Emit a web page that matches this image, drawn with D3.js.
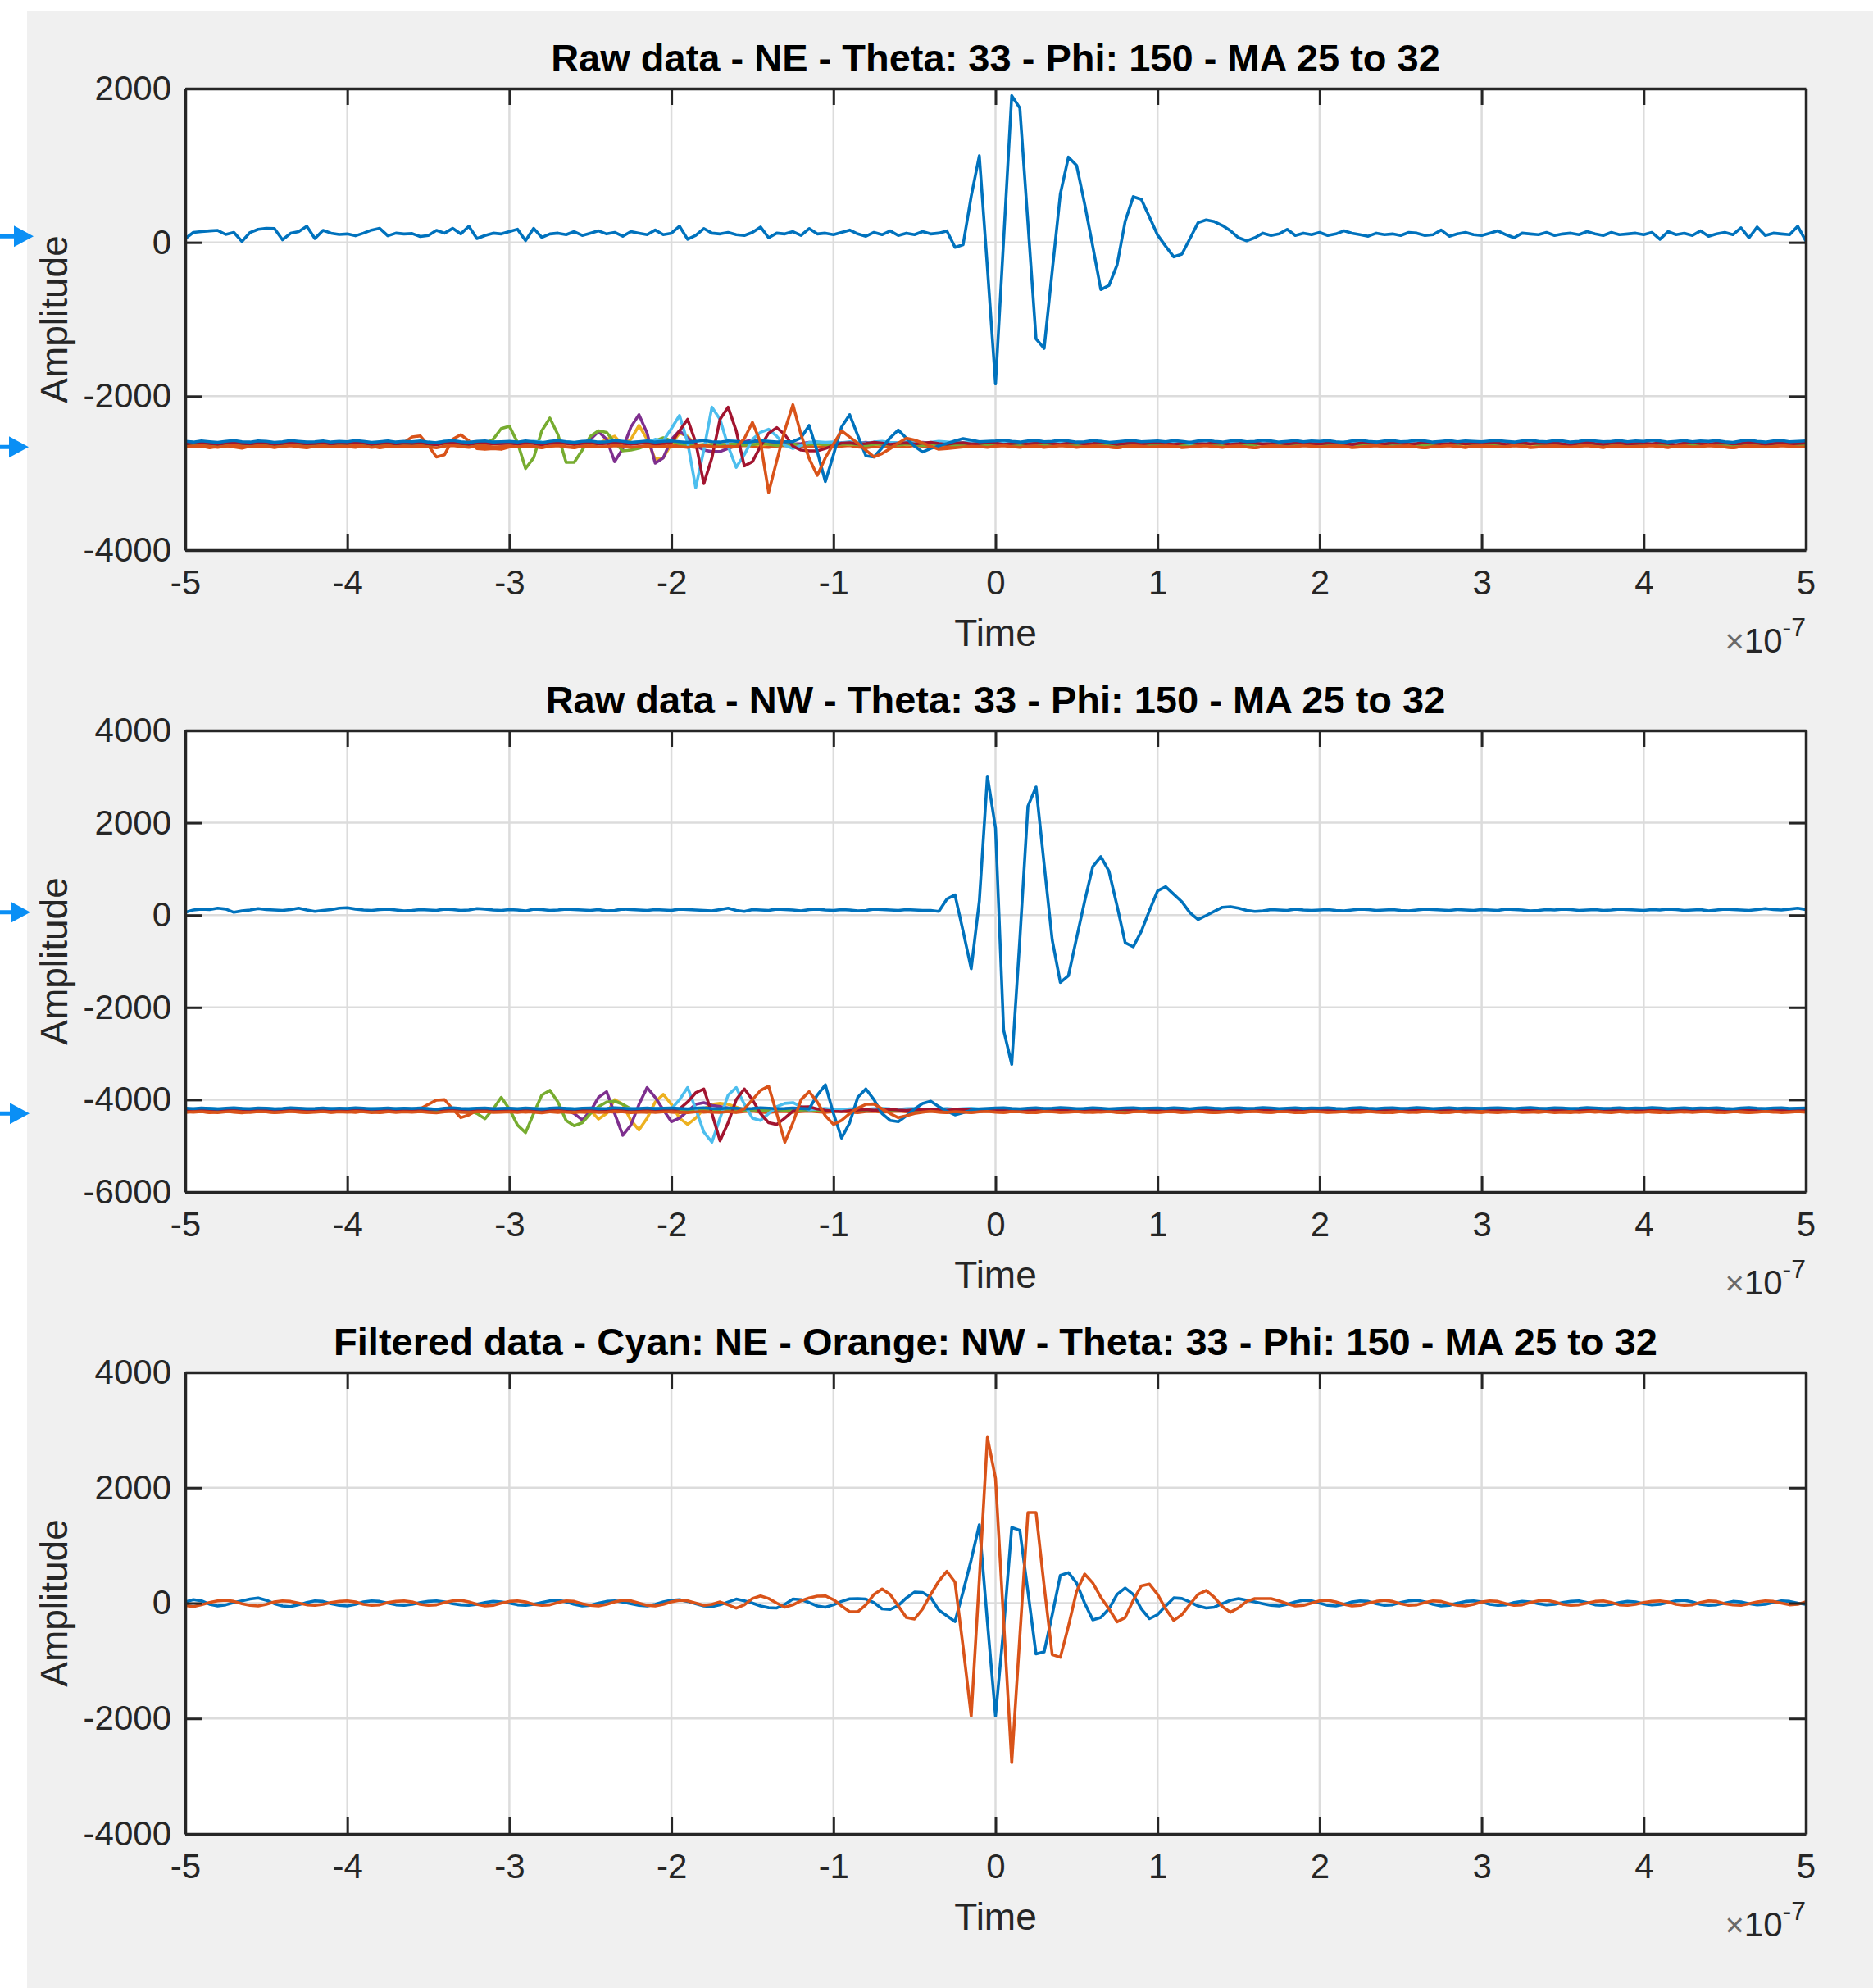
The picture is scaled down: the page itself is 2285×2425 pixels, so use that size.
<!DOCTYPE html>
<html><head><meta charset="utf-8">
<script src="https://cdn.jsdelivr.net/npm/d3@7"></script>
<style>
html,body{margin:0;padding:0;background:#ffffff;}
svg{display:block;font-family:"Liberation Sans",Arial,Helvetica,sans-serif;}
</style>
</head><body>
<svg id="chart" width="2285" height="2425"></svg>
<script>
// ---------- sampling grid (ns) ----------
const timeStartNs = -500, timeStepNs = 5;   // 201 samples, -500 .. 500 ns

// ---------- axis ticks / labels ----------
const xTicks = [-5,-4,-3,-2,-1,0,1,2,3,4,5];
const xTickLabels = ["-5","-4","-3","-2","-1","0","1","2","3","4","5"];
const xExponent = "-7";
const xLabel = "Time";
const yLabel = "Amplitude";
const panelTitles = [
  "Raw data - NE - Theta: 33 - Phi: 150 - MA 25 to 32",
  "Raw data - NW - Theta: 33 - Phi: 150 - MA 25 to 32",
  "Filtered data - Cyan: NE - Orange: NW - Theta: 33 - Phi: 150 - MA 25 to 32"
];
const yDomainP1 = [-4000, 2000], yTicksP1 = [-4000,-2000,0,2000];
const yDomainP2 = [-6000, 4000], yTicksP2 = [-6000,-4000,-2000,0,2000,4000];
const yDomainP3 = [-4000, 4000], yTicksP3 = [-4000,-2000,0,2000,4000];
const seriesColors = ["#0072BD","#D95319","#EDB120","#7E2F8E","#77AC30","#4DBEEE","#A2142F","#0072BD","#D95319"];
const arrowValues = [[80,-2660],[60,-4300]];

// ---------- Panel 1 : NE raw ----------
const neTop = [
50,129,140,150,156,103,129,13,129,170,182,180,34,118,140,210,50,156,120,103,
110,86,120,160,182,86,120,110,115,76,90,156,120,182,110,210,50,90,120,110,
140,171,23,182,65,110,120,100,140,90,120,150,110,130,80,140,120,100,160,100,
120,210,40,90,180,120,110,130,100,90,130,200,60,120,110,140,90,180,110,120,
100,130,160,110,80,130,100,150,90,120,100,140,110,120,149,-64,-30,600,1126,-330,
-1840,30,1908,1748,250,-1253,-1378,-370,629,1108,1002,500,-50,-614,-560,-294,274,594,558,330,
96,-50,-188,-153,50,256,292,270,220,150,60,20,60,120,90,110,170,90,120,100,
130,90,110,150,120,100,80,120,100,110,90,130,120,90,100,160,80,110,130,100,
90,120,150,100,60,120,110,100,130,90,110,120,100,140,110,90,130,100,110,120,
100,130,40,140,100,120,90,150,80,110,130,100,190,60,200,90,120,110,100,210,
20];
const neMA25 = [
-2640,-2660,-2650,-2670,-2655,-2640,-2660,-2675,-2650,-2640,-2655,-2665,-2650,-2640,-2660,-2670,-2650,-2645,-2660,-2650,
-2655,-2665,-2640,-2650,-2670,-2655,-2630,-2600,-2530,-2515,-2640,-2790,-2760,-2560,-2500,-2580,-2680,-2690,-2680,-2690,
-2660,-2650,-2640,-2655,-2665,-2650,-2640,-2660,-2670,-2650,-2645,-2660,-2655,-2640,-2650,-2665,-2660,-2645,-2650,-2660,
-2650,-2640,-2655,-2665,-2650,-2645,-2660,-2670,-2655,-2640,-2650,-2660,-2665,-2650,-2640,-2655,-2660,-2650,-2645,-2660,
-2655,-2650,-2640,-2660,-2670,-2655,-2645,-2650,-2660,-2655,-2640,-2650,-2665,-2660,-2645,-2650,-2655,-2640,-2650,-2660,
-2650,-2640,-2655,-2660,-2645,-2650,-2665,-2655,-2640,-2650,-2660,-2655,-2645,-2650,-2660,-2670,-2655,-2645,-2650,-2660,
-2655,-2645,-2650,-2665,-2660,-2650,-2640,-2655,-2660,-2650,-2645,-2660,-2670,-2655,-2645,-2650,-2660,-2655,-2640,-2650,
-2660,-2655,-2645,-2650,-2665,-2660,-2650,-2640,-2655,-2660,-2650,-2645,-2660,-2670,-2655,-2650,-2640,-2655,-2665,-2650,
-2645,-2650,-2660,-2655,-2640,-2650,-2665,-2660,-2650,-2645,-2655,-2660,-2650,-2640,-2655,-2665,-2650,-2645,-2660,-2655,
-2650,-2640,-2655,-2665,-2650,-2645,-2660,-2655,-2640,-2650,-2660,-2670,-2655,-2645,-2650,-2660,-2655,-2640,-2650,-2660,
-2655];
const neMA26 = [
-2620,-2630,-2615,-2625,-2640,-2620,-2610,-2625,-2635,-2620,-2615,-2630,-2625,-2610,-2620,-2635,-2625,-2615,-2630,-2620,
-2625,-2615,-2630,-2640,-2620,-2610,-2625,-2635,-2620,-2615,-2630,-2625,-2610,-2620,-2635,-2625,-2615,-2630,-2620,-2625,
-2615,-2630,-2625,-2610,-2620,-2635,-2625,-2615,-2630,-2620,-2625,-2620,-2560,-2520,-2640,-2560,-2380,-2560,-2820,-2800,
-2620,-2480,-2520,-2640,-2660,-2620,-2610,-2625,-2630,-2615,-2620,-2635,-2625,-2610,-2620,-2630,-2625,-2615,-2630,-2620,
-2625,-2615,-2630,-2620,-2610,-2625,-2635,-2620,-2615,-2630,-2625,-2610,-2620,-2635,-2625,-2615,-2630,-2620,-2610,-2625,
-2630,-2620,-2615,-2625,-2635,-2620,-2610,-2625,-2630,-2615,-2620,-2635,-2625,-2610,-2620,-2630,-2625,-2615,-2630,-2620,
-2625,-2610,-2620,-2635,-2625,-2615,-2630,-2620,-2625,-2615,-2630,-2640,-2620,-2610,-2625,-2635,-2620,-2615,-2630,-2625,
-2620,-2630,-2615,-2625,-2640,-2620,-2610,-2625,-2635,-2620,-2615,-2630,-2625,-2610,-2620,-2635,-2625,-2615,-2630,-2620,
-2615,-2625,-2635,-2620,-2610,-2625,-2630,-2615,-2620,-2635,-2625,-2610,-2620,-2630,-2625,-2615,-2630,-2620,-2610,-2625,
-2630,-2620,-2615,-2625,-2635,-2620,-2610,-2625,-2630,-2615,-2620,-2635,-2625,-2610,-2620,-2630,-2625,-2615,-2630,-2620,
-2625];
const neMA27 = [
-2610,-2620,-2605,-2615,-2630,-2610,-2600,-2615,-2625,-2610,-2605,-2620,-2615,-2600,-2610,-2625,-2615,-2605,-2620,-2610,
-2615,-2605,-2620,-2630,-2610,-2600,-2615,-2625,-2610,-2605,-2620,-2615,-2600,-2610,-2625,-2615,-2605,-2620,-2610,-2615,
-2605,-2620,-2615,-2600,-2610,-2625,-2615,-2605,-2620,-2620,-2560,-2460,-2560,-2850,-2680,-2400,-2240,-2480,-2870,-2800,
-2560,-2450,-2540,-2640,-2700,-2720,-2720,-2680,-2640,-2590,-2570,-2600,-2620,-2610,-2605,-2620,-2615,-2600,-2610,-2625,
-2615,-2605,-2620,-2610,-2600,-2615,-2625,-2610,-2605,-2620,-2615,-2600,-2610,-2625,-2615,-2605,-2620,-2610,-2600,-2615,
-2620,-2610,-2605,-2615,-2625,-2610,-2600,-2615,-2620,-2605,-2610,-2625,-2615,-2600,-2610,-2620,-2615,-2605,-2620,-2610,
-2615,-2600,-2610,-2625,-2615,-2605,-2620,-2610,-2615,-2605,-2620,-2630,-2610,-2600,-2615,-2625,-2610,-2605,-2620,-2615,
-2610,-2620,-2605,-2615,-2630,-2610,-2600,-2615,-2625,-2610,-2605,-2620,-2615,-2600,-2610,-2625,-2615,-2605,-2620,-2610,
-2605,-2615,-2625,-2610,-2600,-2615,-2620,-2605,-2610,-2625,-2615,-2600,-2610,-2620,-2615,-2605,-2620,-2610,-2600,-2615,
-2620,-2610,-2605,-2615,-2625,-2610,-2600,-2615,-2620,-2605,-2610,-2625,-2615,-2600,-2610,-2620,-2615,-2605,-2620,-2610,
-2615];
const neMA28 = [
-2625,-2635,-2620,-2630,-2645,-2625,-2615,-2630,-2640,-2625,-2620,-2635,-2630,-2615,-2625,-2640,-2630,-2620,-2635,-2625,
-2630,-2620,-2635,-2645,-2625,-2615,-2630,-2640,-2625,-2620,-2635,-2630,-2615,-2625,-2640,-2630,-2630,-2620,-2560,-2420,
-2390,-2600,-2940,-2800,-2450,-2284,-2500,-2860,-2860,-2700,-2520,-2450,-2470,-2600,-2710,-2700,-2675,-2640,-2580,-2540,
-2580,-2620,-2640,-2635,-2625,-2630,-2640,-2625,-2620,-2635,-2630,-2615,-2625,-2640,-2630,-2620,-2635,-2625,-2615,-2630,
-2635,-2625,-2620,-2630,-2640,-2625,-2615,-2630,-2635,-2620,-2625,-2640,-2630,-2615,-2625,-2635,-2630,-2620,-2635,-2625,
-2630,-2615,-2625,-2640,-2630,-2620,-2635,-2625,-2630,-2620,-2635,-2645,-2625,-2615,-2630,-2640,-2625,-2620,-2635,-2630,
-2625,-2635,-2620,-2630,-2645,-2625,-2615,-2630,-2640,-2625,-2620,-2635,-2630,-2615,-2625,-2640,-2630,-2620,-2635,-2625,
-2620,-2630,-2640,-2625,-2615,-2630,-2635,-2620,-2625,-2640,-2630,-2615,-2625,-2635,-2630,-2620,-2635,-2625,-2615,-2630,
-2635,-2625,-2620,-2630,-2640,-2625,-2615,-2630,-2635,-2620,-2625,-2640,-2630,-2615,-2625,-2635,-2630,-2620,-2635,-2625,
-2630,-2615,-2625,-2640,-2630,-2620,-2635,-2625,-2630,-2620,-2635,-2645,-2625,-2615,-2630,-2640,-2625,-2620,-2635,-2630,
-2630];
const neMA29 = [
-2595,-2605,-2590,-2600,-2615,-2595,-2585,-2600,-2610,-2595,-2590,-2605,-2600,-2585,-2595,-2610,-2600,-2590,-2605,-2595,
-2600,-2590,-2605,-2615,-2595,-2585,-2600,-2610,-2595,-2590,-2605,-2600,-2585,-2595,-2610,-2600,-2590,-2605,-2595,-2600,
-2590,-2605,-2600,-2585,-2595,-2610,-2600,-2590,-2605,-2595,-2600,-2610,-2595,-2585,-2600,-2605,-2595,-2600,-2560,-2580,
-2420,-2250,-2600,-3190,-2700,-2142,-2300,-2650,-2924,-2760,-2560,-2470,-2430,-2520,-2640,-2680,-2640,-2600,-2590,-2600,
-2595,-2605,-2590,-2600,-2610,-2595,-2585,-2600,-2605,-2590,-2595,-2610,-2600,-2585,-2595,-2605,-2600,-2590,-2605,-2595,
-2600,-2585,-2595,-2610,-2600,-2590,-2605,-2595,-2600,-2590,-2605,-2615,-2595,-2585,-2600,-2610,-2595,-2590,-2605,-2600,
-2595,-2605,-2590,-2600,-2615,-2595,-2585,-2600,-2610,-2595,-2590,-2605,-2600,-2585,-2595,-2610,-2600,-2590,-2605,-2595,
-2590,-2600,-2610,-2595,-2585,-2600,-2605,-2590,-2595,-2610,-2600,-2585,-2595,-2605,-2600,-2590,-2605,-2595,-2585,-2600,
-2605,-2595,-2590,-2600,-2610,-2595,-2585,-2600,-2605,-2590,-2595,-2610,-2600,-2585,-2595,-2605,-2600,-2590,-2605,-2595,
-2600,-2585,-2595,-2610,-2600,-2590,-2605,-2595,-2600,-2590,-2605,-2615,-2595,-2585,-2600,-2610,-2595,-2590,-2605,-2600,
-2600];
const neMA30 = [
-2620,-2610,-2605,-2615,-2625,-2610,-2600,-2615,-2620,-2605,-2610,-2625,-2615,-2600,-2610,-2620,-2615,-2605,-2620,-2610,
-2615,-2600,-2610,-2625,-2615,-2605,-2620,-2610,-2615,-2605,-2620,-2630,-2610,-2600,-2615,-2625,-2610,-2605,-2620,-2615,
-2610,-2620,-2605,-2615,-2630,-2610,-2600,-2615,-2625,-2610,-2605,-2620,-2615,-2600,-2610,-2625,-2615,-2605,-2620,-2620,
-2600,-2450,-2300,-2600,-3137,-2800,-2300,-2142,-2450,-2906,-2850,-2650,-2480,-2409,-2500,-2650,-2700,-2710,-2710,-2680,
-2640,-2610,-2605,-2620,-2615,-2600,-2610,-2625,-2615,-2605,-2620,-2610,-2600,-2615,-2625,-2610,-2605,-2620,-2615,-2600,
-2610,-2625,-2615,-2605,-2620,-2610,-2600,-2615,-2625,-2610,-2605,-2620,-2615,-2600,-2610,-2625,-2615,-2605,-2620,-2610,
-2605,-2615,-2625,-2610,-2600,-2615,-2620,-2605,-2610,-2625,-2615,-2600,-2610,-2620,-2615,-2605,-2620,-2610,-2600,-2615,
-2620,-2610,-2605,-2615,-2625,-2610,-2600,-2615,-2620,-2605,-2610,-2625,-2615,-2600,-2610,-2620,-2615,-2605,-2620,-2610,
-2615,-2600,-2610,-2625,-2615,-2605,-2620,-2610,-2615,-2605,-2620,-2630,-2610,-2600,-2615,-2625,-2610,-2605,-2620,-2615,
-2610,-2620,-2605,-2615,-2630,-2610,-2600,-2615,-2625,-2610,-2605,-2620,-2615,-2600,-2610,-2625,-2615,-2605,-2620,-2615,
-2610];
const neMA31 = [
-2585,-2595,-2580,-2590,-2600,-2585,-2575,-2590,-2595,-2580,-2585,-2600,-2590,-2575,-2585,-2595,-2590,-2580,-2595,-2585,
-2590,-2575,-2585,-2600,-2590,-2580,-2595,-2585,-2590,-2580,-2595,-2605,-2585,-2575,-2590,-2600,-2585,-2580,-2595,-2590,
-2585,-2595,-2580,-2590,-2605,-2585,-2575,-2590,-2600,-2585,-2580,-2595,-2590,-2575,-2585,-2600,-2590,-2580,-2595,-2585,
-2580,-2590,-2600,-2585,-2575,-2590,-2595,-2580,-2585,-2600,-2590,-2575,-2585,-2595,-2590,-2590,-2540,-2380,-2720,-3110,
-2760,-2400,-2240,-2510,-2775,-2790,-2670,-2540,-2440,-2545,-2650,-2725,-2680,-2645,-2615,-2580,-2550,-2570,-2590,-2585,
-2580,-2570,-2585,-2595,-2580,-2575,-2590,-2585,-2570,-2580,-2595,-2590,-2575,-2585,-2600,-2590,-2580,-2575,-2590,-2585,
-2580,-2590,-2575,-2585,-2600,-2580,-2570,-2585,-2595,-2580,-2575,-2590,-2585,-2570,-2580,-2595,-2585,-2575,-2590,-2580,
-2585,-2575,-2590,-2600,-2580,-2570,-2585,-2595,-2580,-2575,-2590,-2585,-2570,-2580,-2595,-2585,-2575,-2590,-2580,-2585,
-2590,-2580,-2575,-2585,-2595,-2580,-2570,-2585,-2590,-2575,-2580,-2595,-2585,-2570,-2580,-2590,-2585,-2575,-2590,-2580,
-2585,-2570,-2580,-2595,-2585,-2575,-2590,-2580,-2585,-2575,-2590,-2600,-2580,-2570,-2585,-2595,-2580,-2575,-2590,-2585,
-2580];
const neMA32 = [
-2660,-2650,-2645,-2655,-2665,-2650,-2640,-2655,-2660,-2645,-2650,-2665,-2655,-2640,-2650,-2660,-2655,-2645,-2660,-2650,
-2655,-2640,-2650,-2665,-2655,-2645,-2660,-2650,-2655,-2645,-2660,-2670,-2650,-2640,-2655,-2665,-2650,-2645,-2660,-2655,
-2650,-2660,-2645,-2655,-2670,-2650,-2640,-2655,-2665,-2650,-2645,-2660,-2655,-2640,-2650,-2665,-2655,-2645,-2660,-2650,
-2645,-2655,-2665,-2650,-2640,-2655,-2660,-2650,-2660,-2550,-2340,-2600,-3250,-2840,-2440,-2110,-2500,-2810,-3030,-2800,
-2620,-2450,-2530,-2610,-2700,-2790,-2745,-2680,-2610,-2546,-2570,-2607,-2650,-2690,-2680,-2670,-2660,-2650,-2655,-2665,
-2650,-2640,-2655,-2665,-2650,-2645,-2660,-2655,-2640,-2650,-2665,-2655,-2645,-2650,-2660,-2670,-2655,-2645,-2650,-2660,
-2655,-2645,-2650,-2665,-2660,-2650,-2640,-2655,-2665,-2650,-2645,-2660,-2670,-2655,-2645,-2650,-2660,-2655,-2640,-2650,
-2660,-2655,-2645,-2650,-2665,-2660,-2650,-2640,-2655,-2660,-2650,-2645,-2660,-2670,-2655,-2650,-2640,-2655,-2665,-2650,
-2645,-2650,-2660,-2655,-2640,-2650,-2665,-2660,-2650,-2645,-2655,-2660,-2650,-2640,-2655,-2665,-2650,-2645,-2660,-2655,
-2650,-2640,-2655,-2665,-2650,-2645,-2660,-2655,-2640,-2650,-2660,-2670,-2655,-2645,-2650,-2660,-2655,-2640,-2650,-2660,
-2660];

// ---------- Panel 2 : NW raw ----------
const nwTop = [
60,110,130,120,150,130,60,90,110,140,120,110,100,120,150,110,80,100,120,150,
160,130,110,100,120,130,110,90,100,120,110,100,130,120,100,110,140,130,110,100,
120,110,90,130,120,100,110,130,120,110,100,120,90,100,130,120,110,100,120,110,
100,130,120,110,100,90,120,150,100,80,120,110,100,130,120,110,90,120,130,110,
100,120,110,90,100,130,120,110,100,120,110,100,100,80,347,435,-350,-1163,300,3010,
1886,-2495,-3234,-527,2360,2774,1100,-541,-1459,-1311,-500,300,1050,1265,950,200,-600,-689,-350,100,
524,613,450,288,50,-98,-10,80,169,180,150,100,80,90,120,110,100,130,110,100,
110,120,100,90,110,130,120,100,110,120,100,90,110,130,120,110,100,120,110,100,
120,110,100,130,120,110,90,100,120,110,130,120,100,110,120,100,110,130,120,110,
100,120,110,130,120,100,110,120,90,110,130,120,110,100,120,140,120,110,130,150,
120];
const nwMA25 = [
-4250,-4270,-4260,-4280,-4265,-4250,-4270,-4285,-4260,-4250,-4265,-4275,-4260,-4250,-4270,-4280,-4260,-4255,-4270,-4260,
-4265,-4275,-4250,-4260,-4280,-4265,-4250,-4260,-4250,-4200,-4100,-4010,-4000,-4200,-4390,-4330,-4230,-4200,-4200,-4210,
-4240,-4255,-4270,-4260,-4250,-4265,-4275,-4260,-4250,-4270,-4280,-4260,-4255,-4270,-4260,-4250,-4265,-4275,-4260,-4250,
-4270,-4280,-4260,-4255,-4270,-4260,-4250,-4265,-4275,-4260,-4250,-4270,-4280,-4260,-4255,-4270,-4260,-4250,-4265,-4275,
-4260,-4250,-4270,-4280,-4260,-4255,-4270,-4260,-4250,-4265,-4275,-4260,-4250,-4270,-4280,-4260,-4255,-4270,-4260,-4250,
-4265,-4275,-4260,-4250,-4270,-4280,-4260,-4255,-4270,-4260,-4250,-4265,-4275,-4260,-4250,-4270,-4280,-4260,-4255,-4270,
-4260,-4250,-4265,-4275,-4260,-4250,-4270,-4280,-4260,-4255,-4270,-4260,-4250,-4265,-4275,-4260,-4250,-4270,-4280,-4260,
-4255,-4270,-4260,-4250,-4265,-4275,-4260,-4250,-4270,-4280,-4260,-4255,-4270,-4260,-4250,-4265,-4275,-4260,-4250,-4270,
-4280,-4260,-4255,-4270,-4260,-4250,-4265,-4275,-4260,-4250,-4270,-4280,-4260,-4255,-4270,-4260,-4250,-4265,-4275,-4260,
-4250,-4270,-4280,-4260,-4255,-4270,-4260,-4250,-4265,-4275,-4260,-4250,-4270,-4280,-4260,-4255,-4270,-4260,-4250,-4265,
-4260];
const nwMA26 = [
-4235,-4225,-4240,-4230,-4220,-4235,-4245,-4230,-4225,-4215,-4230,-4240,-4225,-4220,-4235,-4230,-4215,-4225,-4240,-4230,
-4220,-4235,-4225,-4215,-4230,-4240,-4230,-4220,-4235,-4245,-4230,-4225,-4215,-4230,-4240,-4225,-4220,-4235,-4230,-4215,
-4225,-4240,-4230,-4220,-4235,-4245,-4230,-4225,-4215,-4230,-4230,-4420,-4300,-4000,-4100,-4450,-4655,-4400,-4050,-3885,
-4100,-4400,-4537,-4400,-4200,-4100,-4080,-4100,-4160,-4220,-4235,-4225,-4240,-4230,-4220,-4235,-4245,-4230,-4225,-4215,
-4230,-4240,-4225,-4220,-4235,-4230,-4215,-4225,-4240,-4230,-4220,-4235,-4225,-4215,-4230,-4240,-4230,-4220,-4235,-4245,
-4230,-4225,-4215,-4230,-4240,-4225,-4220,-4235,-4230,-4215,-4225,-4240,-4230,-4220,-4235,-4245,-4230,-4225,-4215,-4230,
-4240,-4225,-4220,-4235,-4230,-4215,-4225,-4240,-4230,-4220,-4235,-4245,-4230,-4225,-4215,-4230,-4240,-4225,-4220,-4235,
-4230,-4215,-4225,-4240,-4230,-4220,-4235,-4245,-4230,-4225,-4215,-4230,-4240,-4225,-4220,-4235,-4230,-4215,-4225,-4240,
-4230,-4220,-4235,-4245,-4230,-4225,-4215,-4230,-4240,-4225,-4220,-4235,-4230,-4215,-4225,-4240,-4230,-4220,-4235,-4245,
-4230,-4225,-4215,-4230,-4240,-4225,-4220,-4235,-4230,-4215,-4225,-4240,-4230,-4220,-4235,-4245,-4230,-4225,-4215,-4230,
-4235];
const nwMA27 = [
-4215,-4230,-4220,-4205,-4220,-4235,-4220,-4210,-4225,-4215,-4205,-4220,-4230,-4215,-4210,-4225,-4235,-4220,-4210,-4225,
-4215,-4220,-4230,-4210,-4220,-4235,-4215,-4210,-4225,-4220,-4215,-4230,-4220,-4210,-4225,-4215,-4205,-4220,-4230,-4215,
-4210,-4225,-4235,-4220,-4210,-4225,-4215,-4220,-4300,-4440,-4250,-3950,-3826,-4300,-4773,-4550,-4100,-3737,-3950,-4220,
-4477,-4400,-4250,-4100,-4063,-4120,-4150,-4180,-4200,-4215,-4225,-4210,-4220,-4230,-4215,-4205,-4220,-4230,-4215,-4210,
-4225,-4235,-4220,-4210,-4225,-4215,-4205,-4220,-4230,-4215,-4210,-4225,-4235,-4220,-4210,-4225,-4215,-4205,-4220,-4230,
-4215,-4210,-4225,-4235,-4220,-4210,-4225,-4215,-4205,-4220,-4230,-4215,-4210,-4225,-4235,-4220,-4210,-4225,-4215,-4205,
-4220,-4230,-4215,-4210,-4225,-4235,-4220,-4210,-4225,-4215,-4205,-4220,-4230,-4215,-4210,-4225,-4235,-4220,-4210,-4225,
-4215,-4205,-4220,-4230,-4215,-4210,-4225,-4235,-4220,-4210,-4225,-4215,-4205,-4220,-4230,-4215,-4210,-4225,-4235,-4220,
-4210,-4225,-4215,-4205,-4220,-4230,-4215,-4210,-4225,-4235,-4220,-4210,-4225,-4215,-4205,-4220,-4230,-4215,-4210,-4225,
-4235,-4220,-4210,-4225,-4215,-4205,-4220,-4230,-4215,-4210,-4225,-4235,-4220,-4210,-4225,-4215,-4205,-4220,-4230,-4215,
-4220];
const nwMA28 = [
-4225,-4240,-4230,-4215,-4230,-4245,-4230,-4220,-4235,-4225,-4215,-4230,-4240,-4225,-4220,-4235,-4245,-4230,-4220,-4235,
-4225,-4230,-4240,-4220,-4230,-4245,-4225,-4220,-4235,-4230,-4225,-4240,-4230,-4220,-4235,-4225,-4300,-4414,-4200,-3950,
-4200,-4550,-4715,-4300,-3900,-3797,-4050,-4450,-4565,-4500,-4300,-4150,-4050,-4033,-4100,-4200,-4240,-4250,-4230,-4225,
-4235,-4225,-4215,-4230,-4240,-4225,-4220,-4235,-4245,-4230,-4220,-4235,-4225,-4215,-4230,-4240,-4225,-4220,-4235,-4230,
-4225,-4240,-4230,-4220,-4235,-4225,-4215,-4230,-4240,-4225,-4220,-4235,-4245,-4230,-4220,-4235,-4225,-4215,-4230,-4240,
-4230,-4220,-4235,-4245,-4225,-4215,-4230,-4240,-4225,-4220,-4235,-4230,-4220,-4235,-4225,-4215,-4230,-4245,-4230,-4220,
-4235,-4225,-4215,-4230,-4240,-4225,-4220,-4235,-4245,-4230,-4220,-4235,-4225,-4215,-4230,-4240,-4225,-4220,-4235,-4230,
-4225,-4240,-4230,-4220,-4235,-4225,-4215,-4230,-4240,-4225,-4220,-4235,-4245,-4230,-4220,-4235,-4225,-4215,-4230,-4240,
-4230,-4220,-4235,-4245,-4225,-4215,-4230,-4240,-4225,-4220,-4235,-4230,-4220,-4235,-4225,-4215,-4230,-4245,-4230,-4220,
-4235,-4225,-4215,-4230,-4240,-4225,-4220,-4235,-4245,-4230,-4220,-4235,-4225,-4215,-4230,-4240,-4225,-4220,-4235,-4230,
-4225];
const nwMA29 = [
-4195,-4210,-4200,-4185,-4200,-4215,-4200,-4190,-4205,-4195,-4185,-4200,-4210,-4195,-4190,-4205,-4215,-4200,-4190,-4205,
-4195,-4200,-4210,-4190,-4200,-4215,-4195,-4190,-4205,-4200,-4195,-4210,-4200,-4190,-4205,-4195,-4185,-4200,-4210,-4195,
-4190,-4205,-4215,-4200,-4190,-4205,-4195,-4185,-4200,-4210,-4195,-4190,-4205,-4215,-4200,-4190,-4205,-4195,-4185,-4200,
-4200,-4000,-3737,-4200,-4700,-4921,-4400,-3900,-3737,-4100,-4400,-4450,-4300,-4150,-4080,-4063,-4150,-4220,-4200,-4190,
-4205,-4215,-4200,-4190,-4205,-4195,-4185,-4200,-4210,-4195,-4190,-4205,-4215,-4200,-4190,-4205,-4195,-4185,-4200,-4210,
-4195,-4190,-4205,-4215,-4200,-4190,-4205,-4195,-4185,-4200,-4210,-4195,-4190,-4205,-4215,-4200,-4190,-4205,-4195,-4185,
-4200,-4210,-4195,-4190,-4205,-4215,-4200,-4190,-4205,-4195,-4185,-4200,-4210,-4195,-4190,-4205,-4215,-4200,-4190,-4205,
-4195,-4185,-4200,-4210,-4195,-4190,-4205,-4215,-4200,-4190,-4205,-4195,-4185,-4200,-4210,-4195,-4190,-4205,-4215,-4200,
-4190,-4205,-4195,-4185,-4200,-4210,-4195,-4190,-4205,-4215,-4200,-4190,-4205,-4195,-4185,-4200,-4210,-4195,-4190,-4205,
-4215,-4200,-4190,-4205,-4195,-4185,-4200,-4210,-4195,-4190,-4205,-4215,-4200,-4190,-4205,-4195,-4185,-4200,-4210,-4195,
-4200];
const nwMA30 = [
-4225,-4215,-4230,-4220,-4210,-4225,-4235,-4220,-4215,-4205,-4220,-4230,-4215,-4210,-4225,-4220,-4205,-4215,-4230,-4220,
-4210,-4225,-4215,-4205,-4220,-4230,-4220,-4210,-4225,-4235,-4220,-4215,-4205,-4220,-4230,-4215,-4210,-4225,-4220,-4205,
-4215,-4230,-4220,-4210,-4225,-4235,-4220,-4215,-4205,-4220,-4230,-4215,-4210,-4225,-4220,-4205,-4215,-4230,-4220,-4210,
-4220,-4200,-4050,-3850,-3767,-4300,-4891,-4500,-4000,-3767,-4000,-4300,-4500,-4537,-4400,-4250,-4160,-4152,-4200,-4230,
-4250,-4260,-4240,-4225,-4215,-4230,-4220,-4210,-4225,-4235,-4220,-4215,-4205,-4220,-4230,-4215,-4210,-4225,-4220,-4205,
-4215,-4230,-4220,-4210,-4225,-4235,-4220,-4215,-4205,-4220,-4230,-4215,-4210,-4225,-4220,-4205,-4215,-4230,-4220,-4210,
-4225,-4235,-4220,-4215,-4205,-4220,-4230,-4215,-4210,-4225,-4220,-4205,-4215,-4230,-4220,-4210,-4225,-4235,-4220,-4215,
-4205,-4220,-4230,-4215,-4210,-4225,-4220,-4205,-4215,-4230,-4220,-4210,-4225,-4235,-4220,-4215,-4205,-4220,-4230,-4215,
-4210,-4225,-4220,-4205,-4215,-4230,-4220,-4210,-4225,-4235,-4220,-4215,-4205,-4220,-4230,-4215,-4210,-4225,-4220,-4205,
-4215,-4230,-4220,-4210,-4225,-4235,-4220,-4215,-4205,-4220,-4230,-4215,-4210,-4225,-4220,-4205,-4215,-4230,-4220,-4210,
-4220];
const nwMA31 = [
-4185,-4195,-4180,-4190,-4200,-4185,-4175,-4190,-4195,-4180,-4185,-4200,-4190,-4175,-4185,-4195,-4190,-4180,-4195,-4185,
-4190,-4175,-4185,-4200,-4190,-4180,-4195,-4185,-4190,-4180,-4195,-4205,-4185,-4175,-4190,-4200,-4185,-4180,-4195,-4190,
-4185,-4195,-4180,-4190,-4205,-4185,-4175,-4190,-4200,-4185,-4180,-4195,-4190,-4175,-4185,-4200,-4190,-4180,-4195,-4185,
-4180,-4190,-4200,-4185,-4175,-4190,-4195,-4180,-4185,-4200,-4190,-4175,-4185,-4195,-4190,-4180,-4190,-4200,-3900,-3678,
-4300,-4832,-4500,-3950,-3767,-4000,-4300,-4450,-4477,-4350,-4200,-4080,-4033,-4150,-4250,-4330,-4280,-4230,-4200,-4190,
-4180,-4175,-4190,-4200,-4185,-4175,-4190,-4185,-4170,-4180,-4195,-4190,-4175,-4185,-4200,-4190,-4180,-4175,-4190,-4185,
-4180,-4190,-4175,-4185,-4200,-4180,-4170,-4185,-4195,-4180,-4175,-4190,-4185,-4170,-4180,-4195,-4185,-4175,-4190,-4180,
-4185,-4175,-4190,-4200,-4180,-4170,-4185,-4195,-4180,-4175,-4190,-4185,-4170,-4180,-4195,-4185,-4175,-4190,-4180,-4185,
-4190,-4180,-4175,-4185,-4195,-4180,-4170,-4185,-4190,-4175,-4180,-4195,-4185,-4170,-4180,-4190,-4185,-4175,-4190,-4180,
-4185,-4170,-4180,-4195,-4185,-4175,-4190,-4180,-4185,-4175,-4190,-4200,-4180,-4170,-4185,-4195,-4180,-4175,-4190,-4185,
-4180];
const nwMA32 = [
-4275,-4265,-4260,-4270,-4280,-4265,-4255,-4270,-4275,-4260,-4265,-4280,-4270,-4255,-4265,-4275,-4270,-4260,-4275,-4265,
-4270,-4255,-4265,-4280,-4270,-4260,-4275,-4265,-4270,-4260,-4275,-4285,-4265,-4255,-4270,-4280,-4265,-4260,-4275,-4270,
-4265,-4275,-4260,-4270,-4285,-4265,-4255,-4270,-4280,-4265,-4260,-4275,-4270,-4255,-4265,-4280,-4270,-4260,-4275,-4265,
-4260,-4270,-4280,-4265,-4255,-4270,-4275,-4260,-4270,-4200,-4000,-3800,-3707,-4300,-4921,-4500,-4000,-3826,-4050,-4350,
-4537,-4450,-4300,-4180,-4100,-4093,-4200,-4300,-4390,-4350,-4300,-4270,-4250,-4265,-4275,-4260,-4270,-4280,-4265,-4255,
-4270,-4275,-4260,-4265,-4280,-4270,-4255,-4265,-4275,-4270,-4260,-4275,-4265,-4270,-4260,-4275,-4285,-4265,-4255,-4270,
-4280,-4265,-4260,-4275,-4270,-4255,-4265,-4280,-4270,-4260,-4275,-4265,-4255,-4270,-4275,-4260,-4265,-4280,-4270,-4255,
-4265,-4275,-4270,-4260,-4275,-4265,-4255,-4270,-4280,-4265,-4260,-4275,-4270,-4255,-4265,-4280,-4270,-4260,-4275,-4265,
-4255,-4270,-4280,-4265,-4260,-4275,-4270,-4255,-4265,-4280,-4270,-4260,-4275,-4265,-4255,-4270,-4280,-4265,-4260,-4275,
-4270,-4255,-4265,-4280,-4270,-4260,-4275,-4265,-4255,-4270,-4280,-4265,-4260,-4275,-4270,-4255,-4265,-4280,-4270,-4260,
-4270];

// ---------- Panel 3 : filtered ----------
const neFiltered = [
20,60,40,-20,-50,-30,10,40,70,90,50,-10,-50,-60,-30,10,40,30,-10,-40,
-50,-20,20,40,30,0,-30,-40,-20,10,30,40,20,-10,-30,-40,-20,10,30,20,
0,-30,-40,-20,10,40,50,20,-20,-50,-40,0,30,40,20,-10,-40,-50,-20,20,
50,60,30,-10,-50,-60,-30,20,70,40,0,-50,-80,-85,-20,70,60,10,-50,-70,
-30,30,75,78,70,10,-100,-110,-40,90,190,185,100,-120,-220,-320,200,750,1357,-330,
-1958,-440,1310,1263,200,-880,-846,-200,480,528,350,0,-290,-250,-100,150,260,150,-100,-270,
-200,-50,90,80,20,-50,-85,-70,-10,50,78,50,20,-10,-40,-50,-20,20,50,40,
0,-40,-50,-20,20,40,30,-10,-40,-30,10,40,50,20,-20,-50,-40,0,30,40,
20,-20,-40,-30,10,30,20,-10,-30,-20,10,30,40,10,-30,-40,-20,10,30,20,
-10,-30,-20,10,40,50,20,-20,-40,-30,0,30,20,-10,-30,-20,10,40,30,0,
-20];
const nwFiltered = [
-40,-60,-30,10,40,50,30,-10,-40,-50,-20,20,40,30,0,-30,-40,-20,10,30,
40,20,-20,-40,-30,10,30,40,20,-20,-40,-30,10,40,50,20,-20,-50,-40,0,
30,40,20,-20,-40,-30,10,40,30,-10,-40,-50,-20,20,50,40,0,-40,-50,-20,
20,50,40,0,-40,-20,20,-30,-88,-30,80,125,80,0,-71,-30,40,90,120,125,
60,-50,-150,-150,-30,150,244,150,-50,-250,-277,-100,150,380,551,362,-760,-1958,408,2873,
2163,-300,-2764,-576,1570,1570,300,-893,-940,-400,200,504,350,100,-100,-324,-250,50,300,330,
150,-100,-300,-200,-20,150,220,100,-60,-159,-80,30,78,78,78,40,-10,-50,-40,0,
40,50,20,-20,-50,-40,0,30,50,30,-10,-40,-30,10,40,30,-10,-40,-50,-20,
20,40,30,-10,-40,-30,10,40,50,20,-20,-40,-30,0,30,40,10,-30,-40,-20,
10,30,40,20,-20,-40,-30,10,40,30,-10,-30,-40,-10,20,40,30,0,-30,-20,
20];

// ---------- build ----------
const panels = [
  {title: panelTitles[0], yDomain: yDomainP1, yTicks: yTicksP1,
   series: [neTop, neMA25, neMA26, neMA27, neMA28, neMA29, neMA30, neMA31, neMA32], arrows: arrowValues[0]},
  {title: panelTitles[1], yDomain: yDomainP2, yTicks: yTicksP2,
   series: [nwTop, nwMA25, nwMA26, nwMA27, nwMA28, nwMA29, nwMA30, nwMA31, nwMA32], arrows: arrowValues[1]},
  {title: panelTitles[2], yDomain: yDomainP3, yTicks: yTicksP3,
   series: [neFiltered, nwFiltered], arrows: []}
];
panels.forEach((p,k)=>p.series.forEach((s,j)=>{ if(s.length!==201) throw new Error("panel "+k+" series "+j+" length "+s.length); }));

const W = 2285, H = 2425;
const svg = d3.select("#chart");
const ink = "#262626";
svg.append("rect").attr("x",33).attr("y",14).attr("width",W-33).attr("height",H-14).attr("fill","#f0f0f0");

const left = 226, right = 2203, plotH = 563, tops = [108, 891, 1674];
const x = d3.scaleLinear().domain([-5,5]).range([left,right]);
const tOf = i => (timeStartNs + i*timeStepNs)/100;   // in units of 1e-7 s
const arrowTips = [[41,35],[37,36]];

panels.forEach((p,k)=>{
  const top = tops[k], bottom = top + plotH;
  const y = d3.scaleLinear().domain(p.yDomain).range([bottom, top]);
  const g = svg.append("g");

  g.append("rect").attr("x",left).attr("y",top).attr("width",right-left).attr("height",plotH).attr("fill","#ffffff");

  // grid
  g.append("g").selectAll("line").data(xTicks.slice(1,-1)).join("line")
    .attr("x1",d=>x(d)).attr("x2",d=>x(d)).attr("y1",top).attr("y2",bottom)
    .attr("stroke","#dcdcdc").attr("stroke-width",2.5);
  g.append("g").selectAll("line").data(p.yTicks.filter(v=>v!==p.yDomain[0]&&v!==p.yDomain[1])).join("line")
    .attr("x1",left).attr("x2",right).attr("y1",d=>y(d)).attr("y2",d=>y(d))
    .attr("stroke","#dcdcdc").attr("stroke-width",2.5);

  // data
  const clipId = "clip"+k;
  svg.append("clipPath").attr("id",clipId).append("rect")
    .attr("x",left).attr("y",top).attr("width",right-left).attr("height",plotH);
  const line = d3.line().x((d,i)=>x(tOf(i))).y(d=>y(d));
  const colors = k===2 ? ["#0072BD","#D95319"] : seriesColors;
  g.append("g").attr("clip-path","url(#"+clipId+")").selectAll("path").data(p.series).join("path")
    .attr("d",line).attr("fill","none").attr("stroke",(d,i)=>colors[i])
    .attr("stroke-width",3.6).attr("stroke-linejoin","round").attr("stroke-linecap","round");

  // axes
  const styleAxis = sel => {
    sel.selectAll(".domain").attr("stroke",ink).attr("stroke-width",3.5);
    sel.selectAll(".tick line").attr("stroke",ink).attr("stroke-width",3);
    sel.selectAll(".tick text").attr("fill",ink).attr("font-size",42)
      .attr("font-family",'"Liberation Sans",Arial,Helvetica,sans-serif');
  };
  g.append("g").attr("transform",`translate(0,${bottom})`)
    .call(d3.axisBottom(x).tickValues(xTicks).tickFormat((d,i)=>xTickLabels[i]).tickSize(-20).tickSizeOuter(0).tickPadding(24))
    .call(styleAxis);
  g.append("g").attr("transform",`translate(0,${top})`)
    .call(d3.axisTop(x).tickValues(xTicks).tickFormat("").tickSize(-20).tickSizeOuter(0))
    .call(styleAxis);
  g.append("g").attr("transform",`translate(${left},0)`)
    .call(d3.axisLeft(y).tickValues(p.yTicks).tickFormat(d=>String(d)).tickSize(-20).tickSizeOuter(0).tickPadding(17))
    .call(styleAxis);
  g.append("g").attr("transform",`translate(${right},0)`)
    .call(d3.axisRight(y).tickValues(p.yTicks).tickFormat("").tickSize(-20).tickSizeOuter(0))
    .call(styleAxis);

  // title
  g.append("text").attr("x",(left+right)/2).attr("y",top-21).attr("text-anchor","middle")
    .attr("font-size",47).attr("font-weight","bold").attr("fill","#000").text(p.title);
  // x label
  g.append("text").attr("x",(left+right)/2).attr("y",bottom+117).attr("text-anchor","middle")
    .attr("font-size",46).attr("fill",ink).text(xLabel);
  // exponent
  const ex = g.append("text").attr("x",right).attr("y",bottom+125).attr("text-anchor","end")
    .attr("font-size",42).attr("fill",ink);
  ex.append("tspan").attr("fill","#6a6a6a").attr("font-size",40).text("\u00D7");
  ex.append("tspan").text("10");
  ex.append("tspan").attr("dy",-20).attr("font-size",32).text(xExponent);
  // y label
  g.append("text").attr("transform",`translate(82,${(top+bottom)/2}) rotate(-90)`)
    .attr("text-anchor","middle").attr("font-size",46).attr("fill",ink).text(yLabel);

  // annotation arrows
  p.arrows.forEach((v,j)=>{
    const tip = arrowTips[k][j], yy = y(v);
    g.append("path")
      .attr("d",`M0,${yy-2.5} L${tip-24},${yy-2.5} L${tip-24},${yy-13} L${tip},${yy} L${tip-24},${yy+13} L${tip-24},${yy+2.5} L0,${yy+2.5} Z`)
      .attr("fill","#0a8ff5");
  });
});
</script>
</body></html>
